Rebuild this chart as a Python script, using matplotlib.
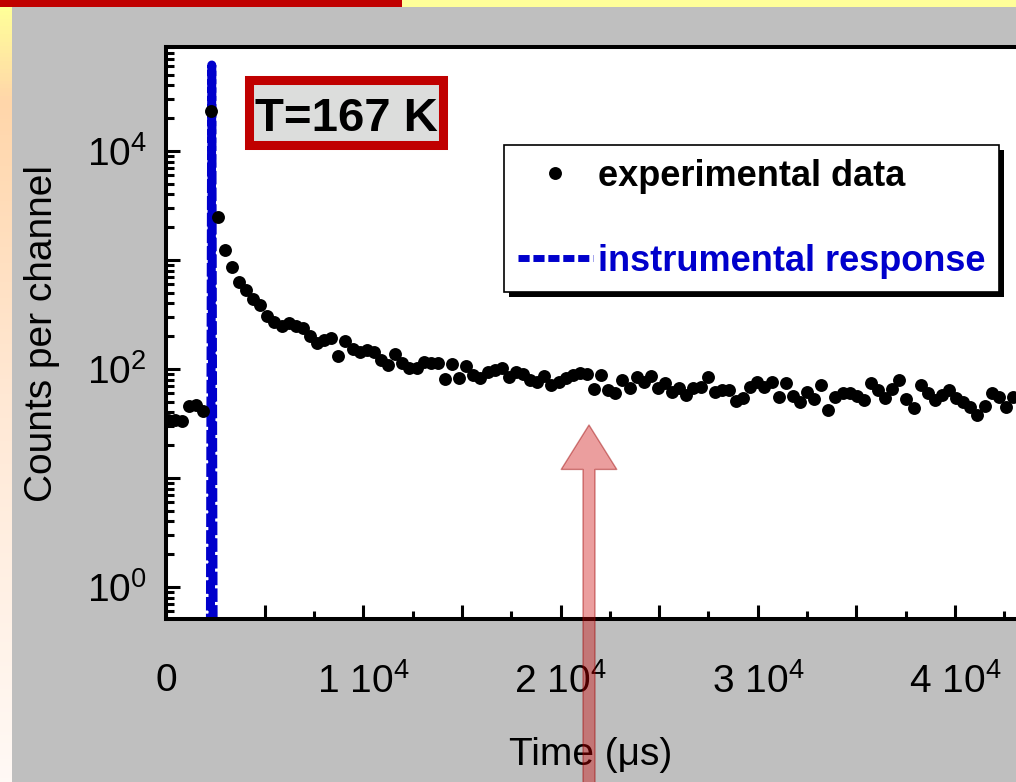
import matplotlib
matplotlib.use("Agg")
import matplotlib.pyplot as plt
import matplotlib.patheffects as pe
import numpy as np
from matplotlib.patches import Rectangle, FancyArrowPatch
from matplotlib.ticker import LogLocator, MultipleLocator, FuncFormatter

plt.rcParams["font.family"] = ["Liberation Sans", "DejaVu Sans"]
plt.rcParams["mathtext.fontset"] = "custom"
plt.rcParams["mathtext.rm"] = "Liberation Sans"
plt.rcParams["mathtext.it"] = "Liberation Sans:italic"
plt.rcParams["mathtext.bf"] = "Liberation Sans:bold"

W, H, DPI = 1016, 782, 100

# decay histogram: counts per channel, channels are equally spaced in time
first_channel_us = 100
channel_width_us = 360
counts = [
    34, 34, 33, 46, 47, 41, 23300, 2480, 1235, 862,
    629, 531, 439, 387, 306, 270, 248, 264, 248, 238,
    201, 173, 185, 192, 132, 181, 153, 143, 149, 143,
    121, 109, 137, 114, 102, 102, 116, 114, 114, 81,
    111, 83, 107, 88, 83, 94, 98, 102, 84, 94,
    90, 79, 76, 86, 71, 76, 83, 88, 92, 90,
    66, 88, 64, 60, 79, 67, 84, 76, 86, 67,
    74, 62, 67, 58, 67, 68, 84, 62, 64, 64,
    51, 54, 68, 76, 68, 76, 55, 74, 57, 50,
    62, 53, 71, 42, 55, 60, 60, 57, 52, 74,
    64, 54, 66, 79, 53, 44, 71, 60, 52, 58,
    64, 54, 50, 45, 38, 46, 60, 55, 45, 55,
]

# instrumental response (very narrow spike)
irf_time_us = [2250, 2320, 2390]
irf_counts = [0.3, 61500, 0.3]

temperature_label = "T=167 K"
legend_labels = ["experimental data", "instrumental response"]
x_label = "Time (\u03bcs)"
y_label = "Counts per channel"

BLUE = "#0000CC"
RED = "#C00000"
GRAY = "#BFBFBF"


def fx(px):
    return px / W


def fy(py):
    return 1 - py / H


time_us = first_channel_us + channel_width_us * np.arange(len(counts))

fig = plt.figure(figsize=(W / DPI, H / DPI), dpi=DPI)
fig.patch.set_facecolor(GRAY)

# slide decoration: top band and left gradient strip
fig.add_artist(Rectangle((0, fy(7)), fx(402), 1 - fy(7), transform=fig.transFigure,
                         facecolor=RED, edgecolor="none"))
fig.add_artist(Rectangle((fx(402), fy(7)), 1 - fx(402), 1 - fy(7), transform=fig.transFigure,
                         facecolor="#FFFF99", edgecolor="none"))
strip = fig.add_axes([0, 0, fx(12), fy(7)])
stops = np.array([[255, 255, 153], [255, 214, 170], [255, 232, 212], [255, 249, 245]]) / 255
pos = np.array([0.0, 0.12, 0.5, 1.0])
ys = np.linspace(0, 1, 200)
grad = np.stack([np.interp(ys, pos, stops[:, k]) for k in range(3)], axis=1)
strip.imshow(grad[:, None, :], aspect="auto", extent=[0, 1, 1, 0])
strip.set_axis_off()

# main axes (runs past the right edge of the slide, as in the original)
ax_left, ax_top, ax_bottom = 166, 47, 619
px_per_unit = 197.25 / 1e4
x_max = 45000
ax = fig.add_axes([fx(ax_left), fy(ax_bottom), x_max * px_per_unit / W, (ax_bottom - ax_top) / H])
ax.set_facecolor("white")

ax.plot(irf_time_us, irf_counts, color=BLUE, lw=6.5, ls=(0, (1.5, 0.35)),
        label=legend_labels[1], zorder=2)
ax.plot(time_us, counts, ls="none", marker="o", ms=9.3, mew=0, color="black",
        label=legend_labels[0], zorder=3)

ax.set_yscale("log")
ax.set_xlim(0, x_max)
ax.set_ylim(0.508, 9.0e4)

for side in ["left", "bottom", "top", "right"]:
    ax.spines[side].set_linewidth(2.9)

ax.xaxis.set_major_locator(MultipleLocator(5000))
ax.xaxis.set_minor_locator(MultipleLocator(2500))


def x_fmt(v, pos):
    if abs(v) < 1:
        return "0"
    if round(v) % 10000 == 0:
        return rf"$\mathregular{{{int(round(v / 1e4))}\ 10^{{4}}}}$"
    return ""


def y_fmt(v, pos):
    e = int(round(np.log10(v)))
    if e % 2 == 0:
        return rf"$\mathregular{{10^{{{e}}}}}$"
    return ""


ax.xaxis.set_major_formatter(FuncFormatter(x_fmt))
ax.yaxis.set_major_locator(LogLocator(base=10, numticks=20))
ax.yaxis.set_minor_locator(LogLocator(base=10, subs=np.arange(2, 10), numticks=20))
ax.yaxis.set_major_formatter(FuncFormatter(y_fmt))
ax.yaxis.set_minor_formatter(FuncFormatter(lambda v, p: ""))

ax.tick_params(which="both", direction="in", top=False, right=False, width=2.2, labelsize=28)
ax.tick_params(which="major", length=10)
ax.tick_params(which="minor", length=5.5)
ax.tick_params(axis="x", pad=32)
ax.tick_params(axis="y", pad=14)

ax.set_xlabel(x_label, fontsize=28)
ax.set_ylabel(y_label, fontsize=28)
ax.xaxis.set_label_coords((591 - ax_left) / (x_max * px_per_unit), (ax_bottom - 737) / (ax_bottom - ax_top))
ax.yaxis.set_label_coords((60 - ax_left) / (x_max * px_per_unit), 0.5)

# temperature box
fig.add_artist(Rectangle((fx(248.5), fy(144.5)), fx(442.5) - fx(248.5), fy(79.5) - fy(144.5),
                         transform=fig.transFigure, facecolor="#DCDDDC", edgecolor=RED,
                         linewidth=6.5, joinstyle="miter"))
fig.text(fx(346), fy(131), temperature_label, ha="center", va="baseline",
         fontsize=34, fontweight="bold", color="black")

leg = ax.legend(handles=ax.get_legend_handles_labels()[0][::-1], loc="upper left",
                bbox_to_anchor=(fx(504), fy(145)), bbox_transform=fig.transFigure,
                borderaxespad=0, frameon=True, fancybox=False, framealpha=1,
                edgecolor="black", shadow=False,
                prop={"weight": "bold", "size": 26}, handlelength=2.08,
                handletextpad=0.14, labelspacing=1.38, borderpad=0.38, numpoints=1)
frame = leg.get_frame()
frame.set_linewidth(1.2)
frame.set_path_effects([pe.SimplePatchShadow(offset=(3.5, -3.5), shadow_rgbFace="black", alpha=1),
                        pe.Normal()])
for text, color in zip(leg.get_texts(), ["black", BLUE]):
    text.set_color(color)
leg.legend_handles[1].set_linewidth(5)
leg.legend_handles[1].set_linestyle((0, (1.6, 0.55)))

# translucent red arrow overlay
arrow = FancyArrowPatch((fx(589), fy(800)), (fx(589), fy(425)), transform=fig.transFigure,
                        arrowstyle="simple,head_length=32,head_width=40,tail_width=8.6",
                        mutation_scale=1, shrinkA=0, shrinkB=0,
                        facecolor=(0.8, 0, 0, 0.38), edgecolor=(0.6, 0, 0, 0.45), linewidth=1)
fig.add_artist(arrow)

fig.savefig("out.png", dpi=DPI, facecolor=fig.get_facecolor())
plt.close(fig)
